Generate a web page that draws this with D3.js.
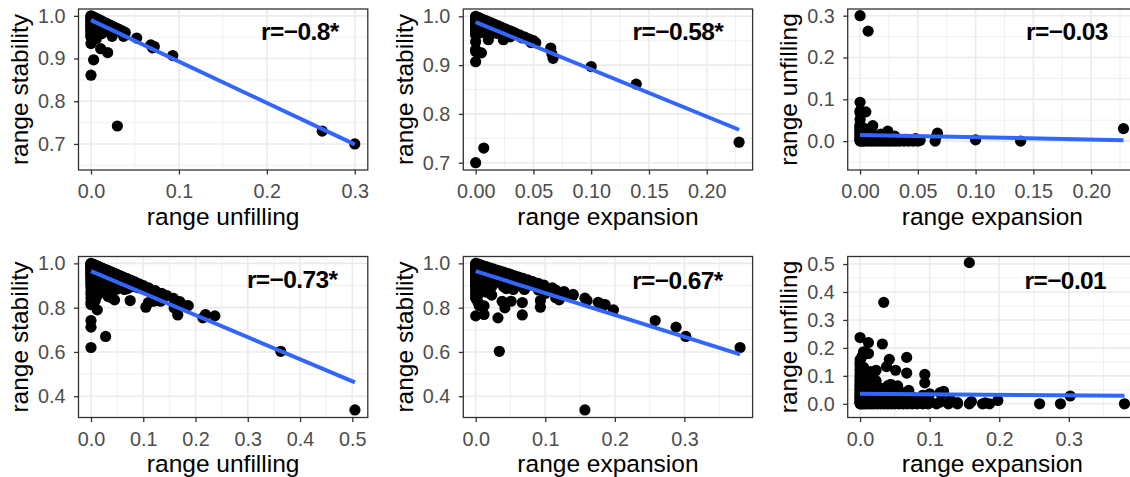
<!DOCTYPE html>
<html>
<head>
<meta charset="utf-8">
<script src="https://cdn.jsdelivr.net/npm/d3@7"></script>
<style>
  body { margin: 0; background: #ffffff; }
  svg { display: block; }
  text { font-family: "Liberation Sans", Arial, Helvetica, sans-serif; }
</style>
</head>
<body>
<svg id="chart" width="1130" height="477"></svg>
<script>
// ---- Set 1 (top row): range unfilling, expansion and stability per unit ----
const unfilling1 = [
  0, 0.002, 0.004, 0.006, 0.009, 0.012, 0.015, 0.018, 0.021, 0.024, 0.027, 0.030, 0.033, 0.036, 0.039, 0.052, 0.068, 0.072, 0.093, 0.300,
  0, 0, 0, 0, 0, 0, 0, 0, 0, 0, 0, 0, 0, 0, 0, 0, 0, 0,
  0.003, 0.019, 0.011, 0.263, 0.070, 0.037, 0.024, 0.030,
  0.006, 0.010, 0.015, 0.005, 0.008, 0.003, 0.012, 0.020, 0.025, 0.004, 0.006, 0.002, 0.030, 0.017
];
const expansion1 = [
  0, 0, 0, 0, 0, 0, 0, 0, 0, 0, 0, 0, 0, 0, 0, 0, 0, 0, 0, 0,
  0.002, 0.004, 0.007, 0.010, 0.013, 0.016, 0.019, 0.022, 0.025, 0.028, 0.031, 0.034, 0.038, 0.042, 0.046, 0.050, 0.065, 0.139,
  0.100, 0.067, 0.066, 0.007, 0.005, 0.011, 0.024, 0.228,
  0.003, 0.005, 0.004, 0.012, 0.020, 0.030, 0.030, 0.010, 0.006, 0.040, 0.048, 0.052, 0.004, 0.018
];
const stability1 = [
  1.000, 0.998, 0.996, 0.994, 0.991, 0.988, 0.985, 0.982, 0.979, 0.976, 0.973, 0.970, 0.967, 0.964, 0.961, 0.948, 0.932, 0.928, 0.907, 0.700,
  0.998, 0.996, 0.993, 0.990, 0.987, 0.984, 0.981, 0.978, 0.975, 0.972, 0.969, 0.966, 0.962, 0.958, 0.954, 0.950, 0.935, 0.861,
  0.897, 0.914, 0.923, 0.730, 0.925, 0.952, 0.952, 0.742,
  0.991, 0.985, 0.981, 0.983, 0.972, 0.967, 0.958, 0.970, 0.969, 0.956, 0.946, 0.946, 0.966, 0.965
];

// ---- Set 2 (bottom row) ----
const unfilling2 = [
  0, 0.003, 0.006, 0.010, 0.014, 0.018, 0.022, 0.027, 0.032, 0.037, 0.043, 0.049, 0.055, 0.062, 0.069, 0.076, 0.084, 0.092, 0.100, 0.110, 0.123, 0.135, 0.145, 0.158, 0.237,
  0, 0, 0, 0, 0, 0, 0, 0, 0, 0, 0, 0, 0, 0, 0, 0, 0, 0, 0, 0, 0, 0, 0, 0, 0, 0, 0, 0,
  0.005, 0.010, 0.008, 0.015, 0.020, 0.012, 0.025, 0.030, 0.005, 0.020, 0.035, 0.040, 0.010, 0.030, 0.045, 0.015,
  0.050, 0.060, 0.025, 0.005, 0.040, 0.010, 0.003, 0.008, 0.018, 0.003, 0.006, 0.004, 0.008, 0.003, 0.015, 0.055,
  0.070, 0.080, 0.065, 0.050, 0.090, 0.100, 0.012, 0.028, 0.002, 0.020, 0.130, 0.115, 0.030, 0.013, 0.040, 0.045,
  0.505, 0.363, 0.219, 0.214, 0.180, 0.170, 0.186, 0.166, 0.159, 0.133, 0.120, 0.120,
  0.110, 0.105, 0.075, 0.082, 0.070, 0.064, 0.048, 0.036, 0.033, 0.028, 0.012
];
const expansion2 = [
  0, 0, 0, 0, 0, 0, 0, 0, 0, 0, 0, 0, 0, 0, 0, 0, 0, 0, 0, 0, 0, 0, 0, 0, 0,
  0.002, 0.005, 0.008, 0.012, 0.016, 0.020, 0.025, 0.030, 0.035, 0.040, 0.045, 0.050, 0.056, 0.062, 0.068, 0.075, 0.082, 0.090, 0.098, 0.110, 0.127, 0.140, 0.157, 0.176, 0.186, 0.258, 0.288, 0.380,
  0.010, 0.005, 0.020, 0.012, 0.030, 0.040, 0.015, 0.020, 0.050, 0.060, 0.010, 0.030, 0.070, 0.050, 0.020, 0.085,
  0.005, 0.010, 0.075, 0.090, 0.060, 0.100, 0.030, 0.045, 0.008, 0.065, 0.115, 0.140, 0.160, 0.180, 0.035, 0.030,
  0.015, 0.005, 0.040, 0.050, 0.020, 0.010, 0.055, 0.040, 0.020, 0.002, 0.005, 0.015, 0.090, 0.130, 0.115, 0.120,
  0.157, 0.034, 0.012, 0.032, 0.012, 0.003, 0.005, 0.067, 0.042, 0.038, 0.023, 0.051,
  0.067, 0.093, 0.093, 0.023, 0.044, 0.054, 0.070, 0.100, 0.117, 0.302, 0.198
];
const stability2 = [
  1.000, 0.997, 0.994, 0.990, 0.986, 0.982, 0.978, 0.973, 0.968, 0.963, 0.957, 0.951, 0.945, 0.938, 0.931, 0.924, 0.916, 0.908, 0.900, 0.890, 0.877, 0.865, 0.855, 0.842, 0.763,
  0.998, 0.995, 0.992, 0.988, 0.984, 0.980, 0.975, 0.970, 0.965, 0.960, 0.955, 0.950, 0.944, 0.938, 0.932, 0.925, 0.918, 0.910, 0.902, 0.890, 0.873, 0.860, 0.843, 0.824, 0.814, 0.742, 0.712, 0.620,
  0.985, 0.985, 0.972, 0.973, 0.950, 0.948, 0.960, 0.950, 0.945, 0.920, 0.955, 0.930, 0.920, 0.920, 0.935, 0.900,
  0.945, 0.930, 0.900, 0.905, 0.900, 0.890, 0.967, 0.947, 0.974, 0.932, 0.879, 0.856, 0.832, 0.817, 0.950, 0.915,
  0.915, 0.915, 0.895, 0.900, 0.890, 0.890, 0.933, 0.932, 0.978, 0.978, 0.865, 0.870, 0.880, 0.857, 0.845, 0.835,
  0.338, 0.603, 0.769, 0.754, 0.808, 0.827, 0.809, 0.767, 0.799, 0.829, 0.857, 0.829,
  0.823, 0.802, 0.832, 0.895, 0.886, 0.882, 0.882, 0.864, 0.850, 0.670, 0.790
];

// Pearson r printed in each panel (* = significant)
const corrLabels = ["r=\u22120.8*", "r=\u22120.58*", "r=\u22120.03", "r=\u22120.73*", "r=\u22120.67*", "r=\u22120.01"];

// Linear trend of each panel: intercept and slope
const fitIntercepts = [0.990, 0.988, 0.0145, 0.965, 0.965, 0.036];
const fitSlopes     = [-0.970, -0.967, -0.053, -0.995, -0.990, -0.019];

// Tick values
const ticksTenths03  = [0, 0.1, 0.2, 0.3];
const ticksStab1     = [0.7, 0.8, 0.9, 1.0];
const ticksTwentieth = [0, 0.05, 0.10, 0.15, 0.20];
const ticksTenths05  = [0, 0.1, 0.2, 0.3, 0.4, 0.5];
const ticksStab2     = [0.4, 0.6, 0.8, 1.0];

// ---- Layout ----
const colLeft = [78.5, 463.3, 847.7];
const panelW = 289.3;
const rowTop = [9, 256.5];
const panelH = 161;

const set1 = { unfilling: unfilling1, expansion: expansion1, stability: stability1 };
const set2 = { unfilling: unfilling2, expansion: expansion2, stability: stability2 };
const titles = { unfilling: "range unfilling", expansion: "range expansion", stability: "range stability" };

const panels = [
  { row: 0, col: 0, set: set1, xKey: "unfilling", yKey: "stability", xDomain: [-0.0142, 0.3148], yDomain: [0.639, 1.016],
    xTicks: ticksTenths03, yTicks: ticksStab1, xFmt: ".1f", yFmt: ".1f", labelAt: [0.2375, 0.964] },
  { row: 0, col: 1, set: set1, xKey: "expansion", yKey: "stability", xDomain: [-0.0107, 0.2397], yDomain: [0.685, 1.015],
    xTicks: ticksTwentieth, yTicks: ticksStab1, xFmt: ".2f", yFmt: ".1f", labelAt: [0.175, 0.969] },
  { row: 0, col: 2, set: set1, xKey: "expansion", yKey: "unfilling", xDomain: [-0.0107, 0.2397], yDomain: [-0.069, 0.316],
    xTicks: ticksTwentieth, yTicks: ticksTenths03, xFmt: ".2f", yFmt: ".1f", labelAt: [0.179, 0.262] },
  { row: 1, col: 0, set: set2, xKey: "unfilling", yKey: "stability", xDomain: [-0.0239, 0.5296], yDomain: [0.304, 1.031],
    xTicks: ticksTenths05, yTicks: ticksStab2, xFmt: ".1f", yFmt: ".1f", labelAt: [0.385, 0.926] },
  { row: 1, col: 1, set: set2, xKey: "expansion", yKey: "stability", xDomain: [-0.0178, 0.398], yDomain: [0.304, 1.031],
    xTicks: ticksTenths03, yTicks: ticksStab2, xFmt: ".1f", yFmt: ".1f", labelAt: [0.29, 0.921] },
  { row: 1, col: 2, set: set2, xKey: "expansion", yKey: "unfilling", xDomain: [-0.0178, 0.398], yDomain: [-0.049, 0.527],
    xTicks: ticksTenths03, yTicks: ticksTenths05, xFmt: ".1f", yFmt: ".1f", labelAt: [0.295, 0.44] }
];

const svg = d3.select("#chart");
svg.append("rect").attr("width", 1130).attr("height", 477).attr("fill", "#ffffff");

// minor breaks: midpoints between majors, plus half a step beyond either end when inside the domain
function minorBreaks(ticks, domain) {
  const step = ticks[1] - ticks[0];
  const out = [];
  for (let i = -1; i < ticks.length; i++) {
    const m = ticks[0] + (i + 0.5) * step;
    if (m > domain[0] && m < domain[1]) out.push(m);
  }
  return out;
}

panels.forEach((p, i) => {
  const left = colLeft[p.col], top = rowTop[p.row];
  const g = svg.append("g").attr("transform", `translate(${left},${top})`);
  const x = d3.scaleLinear().domain(p.xDomain).range([0, panelW]);
  const y = d3.scaleLinear().domain(p.yDomain).range([panelH, 0]);

  // grid
  const grid = g.append("g");
  minorBreaks(p.xTicks, p.xDomain).forEach(v => grid.append("line")
    .attr("x1", x(v)).attr("x2", x(v)).attr("y1", 0).attr("y2", panelH)
    .attr("stroke", "#EBEBEB").attr("stroke-width", 0.8));
  minorBreaks(p.yTicks, p.yDomain).forEach(v => grid.append("line")
    .attr("y1", y(v)).attr("y2", y(v)).attr("x1", 0).attr("x2", panelW)
    .attr("stroke", "#EBEBEB").attr("stroke-width", 0.8));
  p.xTicks.forEach(v => grid.append("line")
    .attr("x1", x(v)).attr("x2", x(v)).attr("y1", 0).attr("y2", panelH)
    .attr("stroke", "#EBEBEB").attr("stroke-width", 1.6));
  p.yTicks.forEach(v => grid.append("line")
    .attr("y1", y(v)).attr("y2", y(v)).attr("x1", 0).attr("x2", panelW)
    .attr("stroke", "#EBEBEB").attr("stroke-width", 1.6));

  // points
  const xs = p.set[p.xKey], ys = p.set[p.yKey];
  const pts = xs.map((v, k) => [v, ys[k]]);
  const clip = "clip" + i;
  g.append("clipPath").attr("id", clip).append("rect").attr("width", panelW).attr("height", panelH);
  const body = g.append("g").attr("clip-path", `url(#${clip})`);
  body.selectAll("circle").data(pts).join("circle")
    .attr("cx", d => x(d[0])).attr("cy", d => y(d[1])).attr("r", 5.6).attr("fill", "#000000");

  // linear trend over the x range of the data
  const [x0, x1] = d3.extent(xs);
  const line = d3.line().x(d => x(d[0])).y(d => y(d[1]));
  body.append("path")
    .attr("d", line([[x0, fitIntercepts[i] + fitSlopes[i] * x0], [x1, fitIntercepts[i] + fitSlopes[i] * x1]]))
    .attr("fill", "none").attr("stroke", "#3366FF").attr("stroke-width", 4);

  // correlation label
  g.append("text")
    .attr("x", x(p.labelAt[0])).attr("y", y(p.labelAt[1]))
    .attr("text-anchor", "middle").attr("dominant-baseline", "central")
    .attr("font-size", 24.5).attr("font-weight", "bold").attr("fill", "#000000")
    .attr("letter-spacing", -0.6)
    .text(corrLabels[i]);

  // border
  g.append("rect").attr("width", panelW).attr("height", panelH)
    .attr("fill", "none").attr("stroke", "#333333").attr("stroke-width", 1.3);

  // axes
  const ax = g.append("g").attr("transform", `translate(0,${panelH})`)
    .call(d3.axisBottom(x).tickValues(p.xTicks).tickFormat(d3.format(p.xFmt)).tickSize(4.5).tickPadding(9.5));
  const ay = g.append("g")
    .call(d3.axisLeft(y).tickValues(p.yTicks).tickFormat(d3.format(p.yFmt)).tickSize(4.5).tickPadding(8.5));
  [ax, ay].forEach(a => {
    a.select(".domain").remove();
    a.selectAll(".tick line").attr("stroke", "#333333").attr("stroke-width", 1.3);
    a.selectAll(".tick text").attr("fill", "#4D4D4D").attr("font-size", 19.8)
      .attr("font-family", "'Liberation Sans', Arial, sans-serif");
  });

  // axis titles
  g.append("text")
    .attr("x", panelW / 2).attr("y", panelH + 54.5)
    .attr("text-anchor", "middle").attr("font-size", 24.5).attr("fill", "#000000")
    .text(titles[p.xKey]);
  g.append("text")
    .attr("transform", `translate(-50.5,${panelH / 2}) rotate(-90)`)
    .attr("text-anchor", "middle").attr("font-size", 24.5).attr("fill", "#000000")
    .text(titles[p.yKey]);
});
</script>
</body>
</html>
